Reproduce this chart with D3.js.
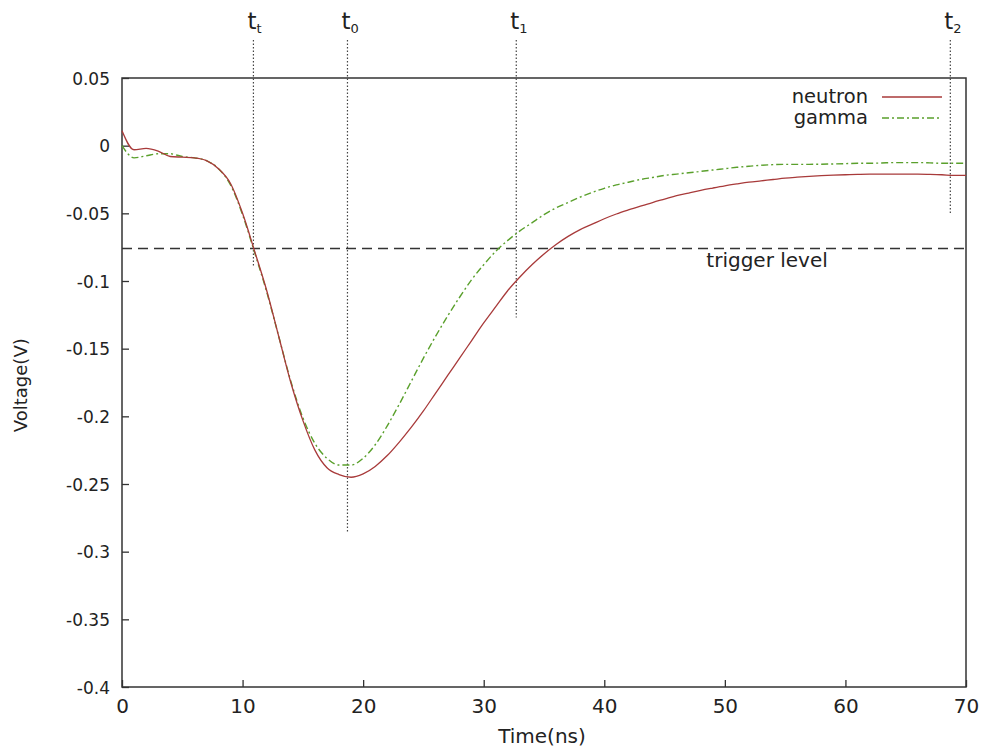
<!DOCTYPE html>
<html>
<head>
<meta charset="utf-8">
<script src="https://cdn.jsdelivr.net/npm/d3@7"></script>
<style>
  body { margin: 0; background: #fff; }
  svg text { font-family: "DejaVu Sans", Verdana, sans-serif; fill: #222; }
</style>
</head>
<body>
<svg id="chart" width="986" height="752"></svg>
<script>
// time in ns, one sample per ns
var times = d3.range(0, 71);

var neutron = [
  0.011, -0.003, -0.002, -0.004, -0.008, -0.0085, -0.009, -0.011, -0.017, -0.028,
  -0.050, -0.078, -0.107, -0.141, -0.175, -0.203, -0.225, -0.238, -0.243, -0.245,
  -0.2425, -0.237, -0.229, -0.219, -0.208, -0.196, -0.183, -0.170, -0.157, -0.144,
  -0.131, -0.119, -0.107, -0.097, -0.088, -0.080, -0.073, -0.067, -0.062, -0.058,
  -0.054, -0.0505, -0.0475, -0.0447, -0.042, -0.0395, -0.037, -0.035, -0.033, -0.0313,
  -0.0297, -0.0283, -0.027, -0.026, -0.025, -0.024, -0.0233, -0.0227, -0.0222, -0.0218,
  -0.0215, -0.0212, -0.021, -0.021, -0.021, -0.021, -0.021, -0.0212, -0.0215, -0.022,
  -0.022
];

var gamma = [
  0.0, -0.009, -0.0075, -0.006, -0.006, -0.008, -0.009, -0.011, -0.017, -0.029,
  -0.051, -0.079, -0.108, -0.141, -0.174, -0.201, -0.220, -0.231, -0.236, -0.236,
  -0.231, -0.221, -0.207, -0.191, -0.174, -0.157, -0.141, -0.126, -0.112, -0.099,
  -0.088, -0.078, -0.070, -0.063, -0.057, -0.051, -0.046, -0.042, -0.038, -0.0345,
  -0.0315, -0.029, -0.027, -0.025, -0.0235, -0.022, -0.021, -0.020, -0.019, -0.018,
  -0.017, -0.016, -0.0152, -0.0145, -0.014, -0.0138, -0.0138, -0.0138, -0.0137, -0.0135,
  -0.0133, -0.013, -0.013, -0.0128, -0.0125, -0.0125, -0.0125, -0.0127, -0.013, -0.013,
  -0.013
];

var xTicks = [0, 10, 20, 30, 40, 50, 60, 70];
var yTicks = [0.05, 0, -0.05, -0.1, -0.15, -0.2, -0.25, -0.3, -0.35, -0.4];

var triggerLevel = -0.076;

// marker lines: name, subscript, time, lower end (V)
var markerNames = ["t", "t", "t", "t"];
var markerSubs = ["t", "0", "1", "2"];
var markerTimes = [10.9, 18.7, 32.7, 68.7];
var markerEnds = [-0.090, -0.286, -0.127, -0.050];

var margin = {top: 78, right: 20, bottom: 65, left: 122};
var width = 986 - margin.left - margin.right,
    height = 752 - margin.top - margin.bottom;

var svg = d3.select("#chart");
var g = svg.append("g")
    .attr("transform", "translate(" + margin.left + "," + margin.top + ")");

var x = d3.scaleLinear().domain([0, 70]).range([0, width]);
var y = d3.scaleLinear().domain([-0.4, 0.05]).range([height, 0]);

// frame
g.append("rect")
    .attr("width", width).attr("height", height)
    .attr("fill", "none").attr("stroke", "#333").attr("stroke-width", 1.5);

// axes, ticks pointing inward
var xAxis = g.append("g")
    .attr("transform", "translate(0," + height + ")")
    .call(d3.axisBottom(x).tickValues(xTicks).tickSize(-7).tickPadding(12).tickFormat(d3.format("d")));
var yAxis = g.append("g")
    .call(d3.axisLeft(y).tickValues(yTicks).tickSize(-7).tickPadding(12).tickFormat(function(d) { return d === 0 ? "0" : String(+d.toFixed(2)); }));

[xAxis, yAxis].forEach(function(a) {
    a.select(".domain").remove();
    a.selectAll(".tick line").attr("stroke", "#333").attr("stroke-width", 1.3);
    a.selectAll(".tick text").attr("fill", "#222");
});
xAxis.selectAll(".tick text").style("font-size", "20px");
yAxis.selectAll(".tick text")
    .style("font-size", "17px")
    .attr("x", -12)
    .attr("dy", "0.36em");

// axis titles
g.append("text")
    .attr("x", width / 2 - 2).attr("y", height + 56)
    .attr("text-anchor", "middle")
    .style("font-size", "20px")
    .text("Time(ns)");
g.append("text")
    .attr("transform", "translate(" + (-95) + "," + (y(-0.177)) + ") rotate(-90)")
    .attr("text-anchor", "middle")
    .style("font-size", "18px")
    .text("Voltage(V)");

// trigger level
g.append("line")
    .attr("x1", x(0)).attr("x2", x(70))
    .attr("y1", y(triggerLevel)).attr("y2", y(triggerLevel))
    .attr("stroke", "#333").attr("stroke-width", 1.5)
    .attr("stroke-dasharray", "10,6");
g.append("text")
    .attr("x", x(53.5)).attr("y", y(triggerLevel) + 18)
    .attr("text-anchor", "middle")
    .style("font-size", "20px")
    .text("trigger level");

// marker lines
var markers = g.selectAll(".marker")
    .data(markerTimes)
    .enter().append("g")
    .attr("class", "marker");
markers.append("line")
    .attr("x1", function(d) { return x(d); })
    .attr("x2", function(d) { return x(d); })
    .attr("y1", -38)
    .attr("y2", function(d, i) { return y(markerEnds[i]); })
    .attr("stroke", "#444").attr("stroke-width", 1.2)
    .attr("stroke-dasharray", "1.5,2");
var labels = markers.append("text")
    .attr("x", function(d) { return x(d) - 6; })
    .attr("y", -49)
    .style("font-size", "23px");
labels.append("tspan").text(function(d, i) { return markerNames[i]; });
labels.append("tspan")
    .attr("dy", 4)
    .style("font-size", "13px")
    .text(function(d, i) { return markerSubs[i]; });

// curves
var line = d3.line()
    .x(function(d) { return x(d[0]); })
    .y(function(d) { return y(d[1]); })
    .curve(d3.curveMonotoneX);

var neutronColor = "#a83a3a",
    gammaColor = "#5aa02c";
var gammaDash = "7,3,2,3";

g.append("path")
    .datum(times.map(function(t, i) { return [t, gamma[i]]; }))
    .attr("d", line)
    .attr("fill", "none").attr("stroke", gammaColor).attr("stroke-width", 1.4)
    .attr("stroke-dasharray", gammaDash);
g.append("path")
    .datum(times.map(function(t, i) { return [t, neutron[i]]; }))
    .attr("d", line)
    .attr("fill", "none").attr("stroke", neutronColor).attr("stroke-width", 1.3);

// legend
var legend = g.append("g").attr("transform", "translate(" + (width - 98) + ",19)");
var legendItems = [["neutron", neutronColor, null], ["gamma", gammaColor, gammaDash]];
legendItems.forEach(function(it, i) {
    legend.append("text")
        .attr("x", 0).attr("y", i * 21)
        .attr("dy", "0.33em")
        .attr("text-anchor", "end")
        .style("font-size", "19.5px")
        .text(it[0]);
    legend.append("line")
        .attr("x1", 14).attr("x2", 74)
        .attr("y1", i * 21).attr("y2", i * 21)
        .attr("stroke", it[1]).attr("stroke-width", 1.4)
        .attr("stroke-dasharray", it[2]);
});
</script>
</body>
</html>
